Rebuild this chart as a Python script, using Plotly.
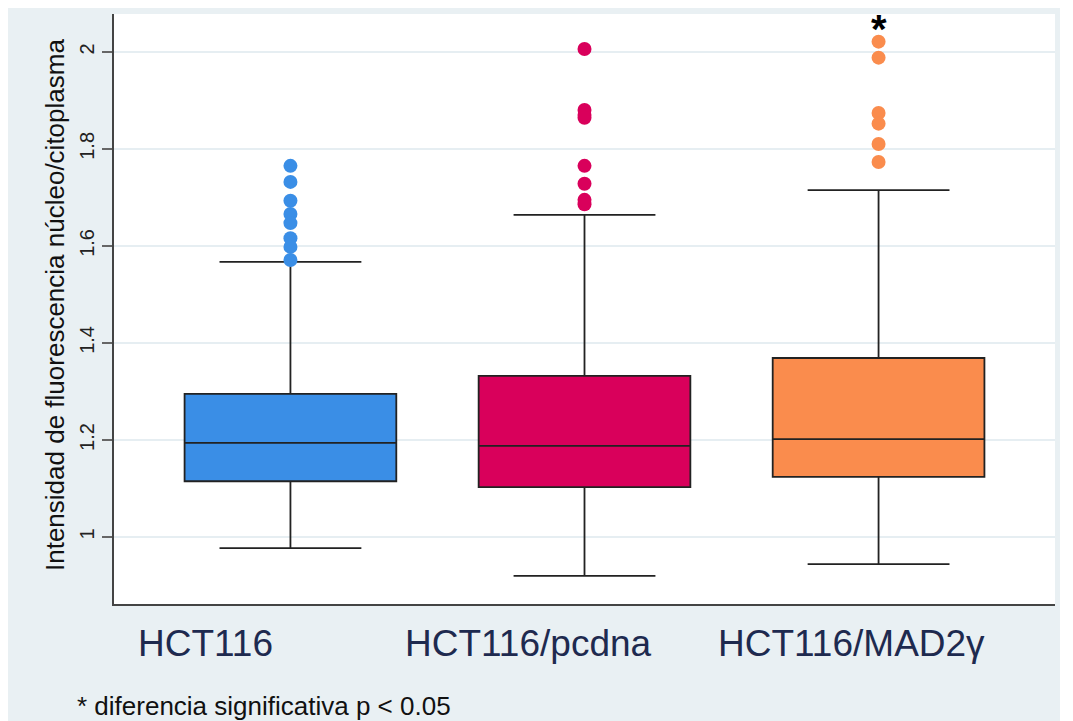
import plotly.graph_objects as go

# ---- data ----
categories = ["HCT116", "HCT116/pcdna", "HCT116/MAD2γ"]
q1 = [1.115, 1.103, 1.124]
median = [1.194, 1.188, 1.202]
q3 = [1.295, 1.332, 1.369]
lower_whisker = [0.977, 0.920, 0.944]
upper_whisker = [1.567, 1.664, 1.715]
outliers_hct116 = [1.765, 1.732, 1.693, 1.666, 1.647, 1.616, 1.598, 1.571]
outliers_pcdna = [2.006, 1.880, 1.870, 1.864, 1.765, 1.728, 1.695, 1.686]
outliers_mad2 = [2.021, 1.988, 1.874, 1.852, 1.810, 1.773]
colors = ["#3a8ee6", "#d9005b", "#fa8c4d"]
significant = [False, False, True]
y_ticks = [1, 1.2, 1.4, 1.6, 1.8, 2]
y_tick_text = ["1", "1.2", "1.4", "1.6", "1.8", "2"]
footnote = "* diferencia significativa p < 0.05"
y_title = "Intensidad de fluorescencia núcleo/citoplasma"

outliers = [outliers_hct116, outliers_pcdna, outliers_mad2]
FONT = "Liberation Sans, Arial, sans-serif"

# page body has an 8px margin, the figure starts at (8, 8)
OFF = 8
PL, PR, PT, PB = 114, 1055, 14, 604   # plot area in page pixels
PW, PH = PR - PL, PB - PT


def px_x(x):
    return (x - PL) / PW


def px_y(y):
    return (PB - y) / PH


fig = go.Figure()
for i, cat in enumerate(categories):
    fig.add_trace(go.Box(
        x=[i], q1=[q1[i]], median=[median[i]], q3=[q3[i]],
        lowerfence=[lower_whisker[i]], upperfence=[upper_whisker[i]],
        name=cat, width=0.72, whiskerwidth=0.67,
        fillcolor=colors[i], line=dict(color="#222222", width=1.8),
        boxpoints=False, showlegend=False, hoverinfo="y",
    ))
    fig.add_trace(go.Scatter(
        x=[i] * len(outliers[i]), y=outliers[i], mode="markers",
        marker=dict(color=colors[i], size=14, line=dict(width=0)),
        showlegend=False, hoverinfo="y",
    ))

# significance asterisks
for i, sig in enumerate(significant):
    if sig:
        fig.add_annotation(x=i, y=max(outliers[i]), yshift=13, text="<b>*</b>",
                           showarrow=False, font=dict(size=40, color="black", family=FONT),
                           yanchor="middle")

# category labels (placed below the axis)
label_shifts = [-85, -56, -27]
for i, cat in enumerate(categories):
    fig.add_annotation(x=i, xref="x", y=px_y(643), yref="paper", text=cat,
                       xshift=label_shifts[i], showarrow=False, yanchor="middle",
                       font=dict(size=37, color="#1e2a4f", family=FONT))

# y axis title
fig.add_annotation(x=px_x(55), xref="paper", y=px_y(305), yref="paper",
                   text=y_title, textangle=-90, showarrow=False,
                   xanchor="center", yanchor="middle",
                   font=dict(size=26, color="#111", family=FONT))

fig.add_annotation(x=px_x(75), xref="paper", y=px_y(706), yref="paper",
                   text=footnote, showarrow=False, xanchor="left", yanchor="middle",
                   font=dict(size=26, color="#111", family=FONT))

# white plot panel
fig.add_shape(type="rect", xref="paper", yref="paper",
              x0=0, x1=1, y0=0, y1=1,
              fillcolor="white", line=dict(width=0), layer="below")

FW, FH = 1060 - OFF, 721 - OFF
fig.update_layout(
    width=FW, height=FH,
    margin=dict(l=PL - OFF, r=OFF + FW - PR, t=PT - OFF, b=OFF + FH - PB,
                autoexpand=False),
    paper_bgcolor="#e9f0f3", plot_bgcolor="rgba(0,0,0,0)",
    font=dict(family=FONT, color="#222"),
    xaxis=dict(range=[-0.6, 2.6], showticklabels=False, ticks="",
               showgrid=False, zeroline=False, showline=True,
               linecolor="#444", linewidth=1.8, automargin=False),
    yaxis=dict(range=[0.862, 2.078], tickvals=y_ticks, ticktext=y_tick_text,
               tickangle=-90, ticks="outside", ticklen=10, tickwidth=2,
               tickcolor="#666", tickfont=dict(size=20, color="#222"),
               showgrid=True, gridcolor="#e6eef2", gridwidth=1.5,
               zeroline=False, showline=True, linecolor="#444", linewidth=1.8,
               automargin=False),
)

fig.write_html("out.html")
